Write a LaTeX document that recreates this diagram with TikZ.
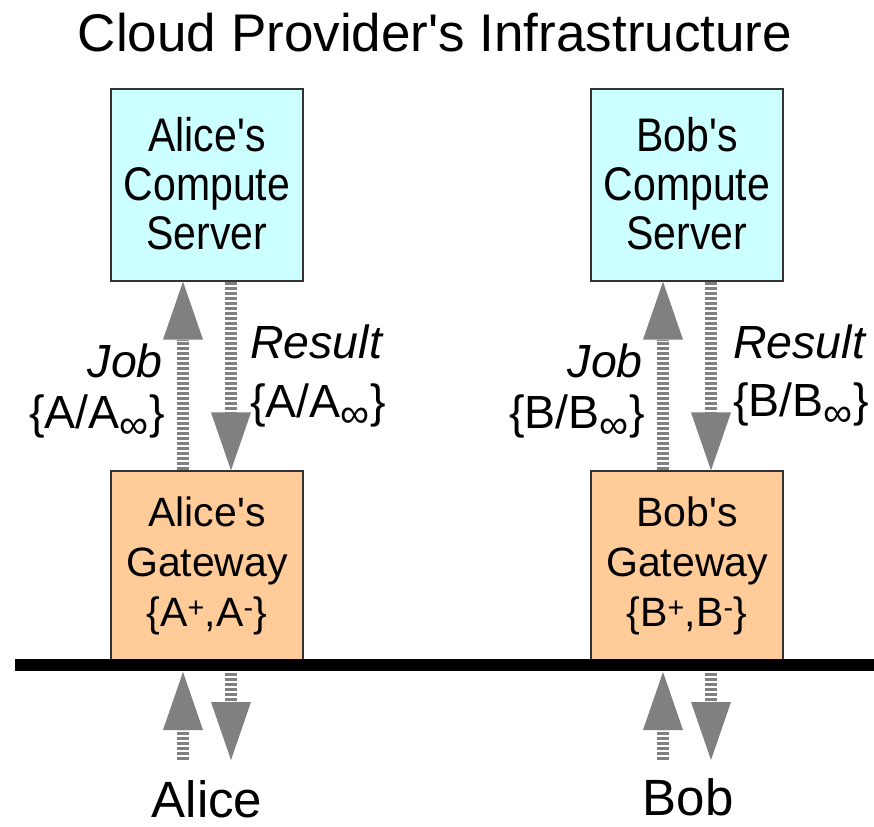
\documentclass[tikz,border=0pt]{standalone}
\usepackage{fontspec}
\usepackage{graphicx}
\setmainfont{Liberation Sans}[Ligatures=TeXOff]
\usetikzlibrary{arrows.meta}
\definecolor{cyanbox}{HTML}{CCFFFF}
\definecolor{orangebox}{HTML}{FFCC99}
\definecolor{flowgray}{HTML}{808080}
% three centred lines, slightly stretched vertically and set a little low
\newcommand\tallstack[1]{\raisebox{-6pt}[\height][\depth]{\scalebox{1}[1.15]{\renewcommand\arraystretch{0.85}\begin{tabular}{@{}c@{}}#1\end{tabular}}}}
% key with an infinity subscript
\newcommand\infkey[1]{\{#1/#1\textsubscript{\scalebox{1.25}{∞}}\}}
\begin{document}
\begin{tikzpicture}[x=1pt,y=-1pt,
  box/.style={draw=black!80, line width=1.2pt, minimum width=192pt,
    inner sep=0pt, align=center, font=\fontsize{41}{50}\selectfont},
  compute/.style={box, fill=cyanbox, minimum height=192pt},
  gateway/.style={box, fill=orangebox, minimum height=189pt},
  flow/.style={draw=flowgray, line width=12pt, dash pattern=on 3pt off 2pt,
    -{Triangle[width=40pt,length=58pt,line width=0pt]}},
  lbl/.style={inner sep=0pt, font=\fontsize{46.5}{52}\selectfont},
  ilbl/.style={inner sep=0pt, font=\fontsize{46.5}{52}\selectfont\itshape},
  who/.style={inner sep=0pt, anchor=base, font=\fontsize{51}{58}\selectfont},
]
\useasboundingbox (0,0) rectangle (874,826);

% title
\node[anchor=base, inner sep=0pt, font=\fontsize{53}{60}\selectfont] (title) at (435,52)
  {Cloud Provider's Infrastructure};

% servers and gateways
\node[compute] (ac) at (207,185) {\tallstack{Alice's\\Compute\\Server}};
\node[compute] (bc) at (687,185) {\tallstack{Bob's\\Compute\\Server}};
\node[gateway] (ag) at (207,565.5) {Alice's\\Gateway\\\{A\textsuperscript{+},A\textsuperscript{-}\}};
\node[gateway] (bg) at (687,565.5) {Bob's\\Gateway\\\{B\textsuperscript{+},B\textsuperscript{-}\}};

% job / result flows between gateway and server
\draw[flow] (183,0 |- ag.north) -- (183,0 |- ac.south);
\draw[flow] (231,0 |- ac.south) -- (231,0 |- ag.north);
\draw[flow] (663,0 |- bg.north) -- (663,0 |- bc.south);
\draw[flow] (711,0 |- bc.south) -- (711,0 |- bg.north);

\node[ilbl, anchor=base east] (ajob) at (163,377) {Job};
\node[lbl, anchor=base east] (ajobkey) at (165,428) {\infkey{A}};
\node[ilbl, anchor=base west] (ares) at (250,358) {Result};
\node[lbl, anchor=base west] (areskey) at (250,417) {\infkey{A}};

\node[ilbl, anchor=base east] (bjob) at (643,377) {Job};
\node[lbl, anchor=base east] (bjobkey) at (645,428) {\infkey{B}};
\node[ilbl, anchor=base west] (bres) at (733,358) {Result};
\node[lbl, anchor=base west] (breskey) at (733,416) {\infkey{B}};

% users below the network
\node[who] (alice) at (207,817) {Alice};
\node[who] (bob) at (688,815) {Bob};

\coordinate (aInTip) at (183,672);
\coordinate (aInEnd) at (183,760);
\coordinate (aOutStart) at (231,673);
\coordinate (aOutTip) at (231,760);
\coordinate (bInTip) at (663,672);
\coordinate (bInEnd) at (663,760);
\coordinate (bOutStart) at (711,673);
\coordinate (bOutTip) at (711,760);

\draw[flow] (aInEnd) -- (aInTip);
\draw[flow] (aOutStart) -- (aOutTip);
\draw[flow] (bInEnd) -- (bInTip);
\draw[flow] (bOutStart) -- (bOutTip);

% network bar
\coordinate (netL) at (15,665);
\coordinate (netR) at (874,665);
\draw[line width=12pt] (netL) -- (netR);
\end{tikzpicture}
\end{document}
